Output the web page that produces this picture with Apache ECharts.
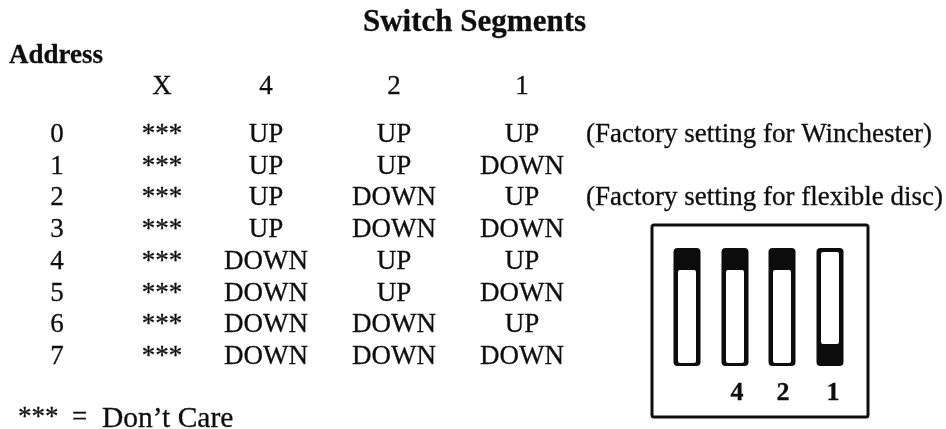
<!DOCTYPE html>
<html>
<head>
<meta charset="utf-8">
<style>
  html, body { margin: 0; padding: 0; background: #fff; }
  #chart { width: 946px; height: 429px; }
</style>
<script src="https://cdn.jsdelivr.net/npm/echarts@6/dist/echarts.min.js"></script>
</head>
<body>
<div id="chart"></div>
<script>
const title = 'Switch Segments'
const addressLabel = 'Address'
const columnHeads = ['X', '4', '2', '1']
const addresses = ['0', '1', '2', '3', '4', '5', '6', '7']
const segX = ['***', '***', '***', '***', '***', '***', '***', '***']
const seg4 = ['UP', 'UP', 'UP', 'UP', 'DOWN', 'DOWN', 'DOWN', 'DOWN']
const seg2 = ['UP', 'UP', 'DOWN', 'DOWN', 'UP', 'UP', 'DOWN', 'DOWN']
const seg1 = ['UP', 'DOWN', 'UP', 'DOWN', 'UP', 'DOWN', 'UP', 'DOWN']
const notes = ['(Factory setting for Winchester)', '', '(Factory setting for flexible disc)', '', '', '', '', '']
const footStars = '***'
const footEquals = '='
const footText = 'Don\u2019t Care'
const switchLabels = ['', '4', '2', '1']
const switchStates = ['UP', 'UP', 'UP', 'DOWN']

// column centres, in page pixels
const colAddress = 57
const colX = 162
const col4 = 266
const col2 = 394
const col1 = 522
const colNote = 586
const switchCols = [687, 735, 782, 830]
const switchLabelCols = [687, 737, 783, 833]

const FONT = '"Liberation Serif", serif'
const INK = '#0e0e0e'

const myChart = echarts.init(document.getElementById('chart'), null, { renderer: 'canvas' })

const textSeries = (axis, data, opts) => ({
    type: 'scatter',
    xAxisIndex: axis,
    yAxisIndex: axis,
    symbolSize: 0,
    silent: true,
    itemStyle: { opacity: 1 },
    data,
    label: Object.assign({
        show: true,
        position: 'inside',
        align: 'center',
        verticalAlign: 'middle',
        fontFamily: FONT,
        fontSize: 27,
        color: INK,
        textBorderColor: INK,
        textBorderWidth: 0.3,
        formatter: p => p.data[2]
    }, opts || {})
})

const bodyColumn = (x, values, opts) =>
    textSeries(1, values.map((v, i) => [x, addresses[i], v]), opts)

const renderFrame = (params, api) => {
    const a = api.coord([652, 225])
    const b = api.coord([868, 417])
    return {
        type: 'rect',
        shape: { x: a[0], y: a[1], width: b[0] - a[0], height: b[1] - a[1], r: 2 },
        style: { fill: '#fff', stroke: INK, lineWidth: 3 }
    }
}

const renderSwitch = (params, api) => {
    const i = params.dataIndex
    const cx = api.coord([switchCols[i], 0])[0]
    const top = api.coord([0, 248])[1]
    const bottom = api.coord([0, 366])[1]
    const w = 27
    const capH = switchStates[i] === 'UP' ? 22 : 4
    const footH = switchStates[i] === 'DOWN' ? 22 : 3
    return {
        type: 'group',
        children: [
            {
                type: 'rect',
                shape: { x: cx - w / 2, y: top, width: w, height: bottom - top, r: 4 },
                style: { fill: '#0c0c0c' }
            },
            {
                type: 'rect',
                shape: {
                    x: cx - w / 2 + 4.5,
                    y: top + capH,
                    width: w - 9,
                    height: bottom - top - capH - footH,
                    r: 2
                },
                style: { fill: '#fff' }
            }
        ]
    }
}

const hiddenValue = (min, max, inverse) => ({
    type: 'value', min, max, inverse, show: false
})

myChart.setOption({
    backgroundColor: '#fff',
    animation: false,
    grid: [
        { left: 0, right: 0, top: 0, bottom: 0 },
        { left: 0, right: 0, top: 119, height: 254 }
    ],
    xAxis: [
        hiddenValue(0, 946, false),
        Object.assign(hiddenValue(0, 946, false), { gridIndex: 1 })
    ],
    yAxis: [
        hiddenValue(0, 429, true),
        { type: 'category', gridIndex: 1, data: addresses, inverse: true, show: false }
    ],
    series: [
        textSeries(0, [[474.5, 23, title]], { fontWeight: 'bold', fontSize: 31 }),
        textSeries(0, [[9, 56, addressLabel]], { fontWeight: 'bold', fontSize: 27, align: 'left' }),
        textSeries(0, [
            [colX, 87, columnHeads[0]],
            [col4, 87, columnHeads[1]],
            [col2, 87, columnHeads[2]],
            [col1, 87, columnHeads[3]]
        ]),
        bodyColumn(colAddress, addresses),
        bodyColumn(colX, segX),
        bodyColumn(col4, seg4),
        bodyColumn(col2, seg2),
        bodyColumn(col1, seg1),
        bodyColumn(colNote, notes, { align: 'left' }),
        textSeries(0, [[18, 418, footStars], [72, 418, footEquals]], { align: 'left' }),
        textSeries(0, [[102, 419, footText]], { align: 'left', fontSize: 29.5 }),
        { type: 'custom', silent: true, coordinateSystem: 'cartesian2d', renderItem: renderFrame, data: [[0, 0]], z: 1 },
        { type: 'custom', silent: true, coordinateSystem: 'cartesian2d', renderItem: renderSwitch, data: switchStates.map((s, i) => [i, s]), z: 2 },
        Object.assign(
            textSeries(0, switchLabels.map((s, i) => [switchLabelCols[i], 393, s]), { fontWeight: 'bold', fontSize: 26 }),
            { z: 3 }
        )
    ]
})
</script>
</body>
</html>
